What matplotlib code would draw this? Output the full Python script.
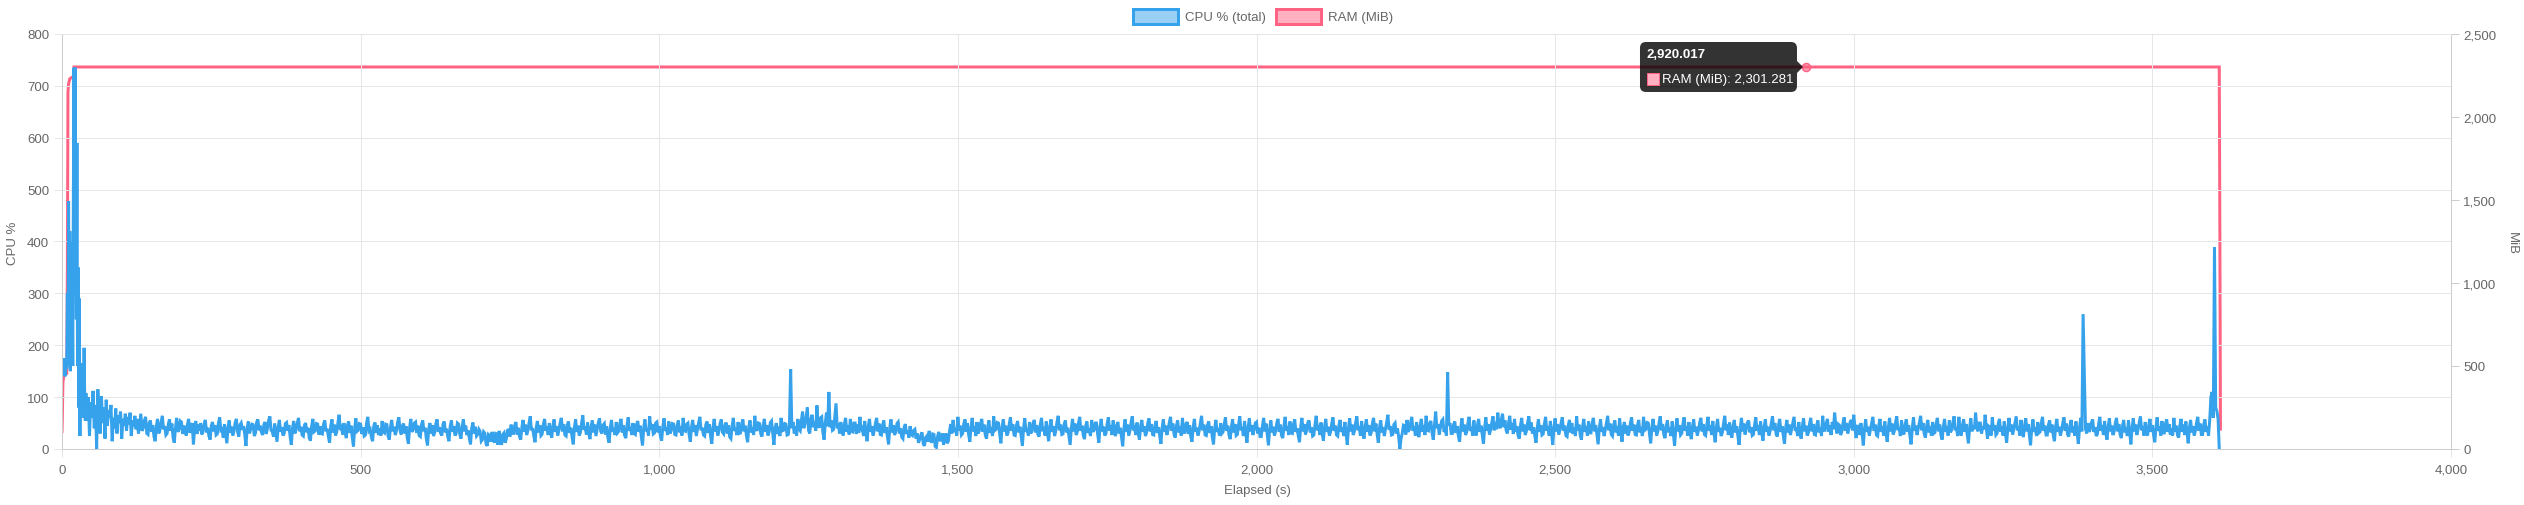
import matplotlib
matplotlib.use("Agg")
import matplotlib.pyplot as plt
import matplotlib.transforms as mtransforms
import numpy as np
from matplotlib.patches import Rectangle, FancyBboxPatch, Polygon
from matplotlib.ticker import FuncFormatter

plt.rcParams["font.family"] = ["Liberation Sans", "DejaVu Sans"]

W, H, DPI = 2524, 506, 100

# ── CPU % (total) ───────────────────────────────────────────────────────────
# start-up burst, 1 s samples (t = 0..39)
cpu_head_1s = [160, 172, 150, 175, 168, 140, 172, 165,
               155, 300, 160, 478, 170, 420, 150, 399, 180, 330, 160,
               480, 735, 300, 735, 395, 250,
               590, 160, 350, 80, 290,
               25, 165, 80,
               165, 100, 150, 60, 195, 100, 55]
# settling, 2 s samples (t = 40..128)
cpu_head_2s = [108, 55, 100, 25, 90, 60, 112, 40, 85, 0, 115,
               70, 30, 102, 50, 80, 20, 95, 45, 75, 60, 85, 15,
               60, 40, 78, 30, 65, 50, 72, 20, 58, 45, 68, 35, 62, 48, 70, 25,
               55, 44, 64, 38, 58, 30]
# steady run, 2 s samples (t = 132..3612), one row per 100 s
cpu_body_2s = [
    68,35, 40,55, 62,30, 28,50, 55,33, 46,24, 15,44, 58,30, 36,52, 64,38, 44,27, 30,48, 57,35, 49,22, 12,40, 60,33, 38,54, 52,29, 45,36, 26,47, 58,31, 42,50, 9,38, 54,29, 47,35,  # 132
    50,28, 33,49, 56,32, 41,25, 18,45, 52,34, 46,27, 29,50, 61,36, 38,22, 48,30, 11,42, 55,31, 43,26, 35,51, 58,33, 24,46, 50,37, 44,28, 6,40, 53,30, 39,48, 47,25, 31,52, 57,36,  # 232
    45,32, 27,47, 52,29, 40,55, 63,36, 34,24, 49,31, 14,43, 56,33, 42,26, 30,49, 51,35, 46,23, 8,41, 54,30, 37,50, 60,34, 43,27, 25,46, 50,32, 41,21, 16,44, 58,33, 35,49, 48,28,  # 332
    44,30, 29,48, 55,34, 39,24, 12,45, 57,32, 47,26, 33,51, 66,37, 41,28, 50,33, 21,46, 53,31, 45,22, 5,40, 59,34, 36,49, 48,29, 42,25, 27,50, 62,35, 38,23, 15,44, 51,31, 46,27,  # 432
    40,26, 54,33, 31,48, 47,25, 18,42, 56,34, 43,27, 35,52, 61,36, 28,45, 49,30, 44,22, 10,41, 58,33, 37,50, 52,31, 45,26, 24,47, 55,34, 41,20, 7,39, 50,30, 46,25, 32,49, 57,33,  # 532
    42,30, 26,48, 53,32, 39,23, 15,44, 55,33, 44,26, 30,50, 48,29, 20,43, 57,34, 45,27, 36,21, 9,40, 51,30, 43,25, 28,38, 34,15, 18,33, 30,10, 6,28, 26,14, 33,20, 12,30, 29,8,  # 632
    35,16, 8,28, 31,12, 20,36, 37,24, 47,30, 30,45, 52,28, 41,24, 18,42, 56,33, 47,27, 35,50, 63,36, 40,25, 13,41, 54,32, 46,26, 29,48, 58,35, 43,27, 50,31, 22,45, 57,33, 44,26,  # 732
    36,50, 60,34, 48,27, 25,46, 53,31, 41,24, 9,42, 57,33, 45,26, 32,50, 65,37, 43,28, 51,30, 19,44, 55,32, 47,25, 38,51, 59,34, 30,46, 49,28, 44,22, 12,40, 56,33, 40,27, 52,31,  # 832
    34,49, 58,32, 46,26, 21,45, 61,35, 42,27, 50,30, 28,47, 54,33, 45,23, 7,41, 57,34, 39,26, 63,37, 48,29, 31,50, 52,32, 44,24, 16,43, 59,35, 41,27, 53,30, 36,49, 48,28, 27,46,  # 932
    55,32, 43,26, 60,35, 34,48, 50,28, 14,42, 56,33, 46,25, 38,51, 62,36, 41,27, 25,47, 53,31, 48,24, 10,41, 58,34, 44,26, 35,50, 57,32, 29,45, 51,30, 46,23, 20,44, 60,35, 40,27,  # 1032
    52,30, 31,48, 57,34, 45,25, 13,43, 55,32, 42,27, 64,37, 37,50, 49,29, 24,46, 58,33, 46,26, 33,51, 54,31, 8,40, 50,29, 43,25, 60,35, 36,49, 48,27, 28,46, 154,40, 52,30, 44,26,  # 1132
    58,38, 35,55, 72,40, 48,62, 80,36, 30,58, 66,42, 52,35, 84,45, 41,60, 62,32, 18,50, 70,44, 110,42, 55,36, 38,64, 88,40, 49,30, 52,35, 26,48, 60,33, 45,28, 58,34, 33,50, 50,29,  # 1232
    47,31, 62,35, 39,25, 54,32, 15,44, 58,33, 44,26, 36,50, 60,34, 49,28, 27,46, 55,31, 42,24, 9,41, 57,32, 46,27, 33,49, 52,30, 40,23, 20,42, 48,29, 35,22, 44,28, 26,36, 38,20,  # 1332
    30,12, 18,27, 32,10, 6,22, 25,14, 35,18, 12,29, 28,5, 3,24, 33,15, 20,30, 8,22, 30,11, 15,34, 48,30, 56,33, 40,26, 62,36, 45,27, 30,49, 57,33, 50,28, 14,42, 60,34, 43,25,  # 1432
    52,30, 36,49, 58,33, 47,26, 20,43, 55,31, 41,25, 63,36, 38,51, 50,29, 11,42, 57,34, 45,26, 31,48, 61,35, 48,27, 26,45, 54,32, 43,24, 6,40, 59,33, 40,26, 52,30, 34,50, 56,32,  # 1532
    46,28, 24,47, 60,34, 42,26, 53,31, 15,43, 57,33, 44,25, 36,52, 64,36, 47,28, 29,48, 55,32, 41,24, 8,41, 58,34, 49,27, 33,50, 62,35, 45,26, 19,44, 53,31, 40,25, 56,33, 37,50,  # 1632
    50,29, 12,42, 58,34, 43,26, 30,49, 61,35, 46,27, 55,32, 25,46, 52,30, 41,23, 5,40, 57,33, 47,26, 35,51, 63,36, 40,27, 51,30, 18,44, 56,33, 44,25, 32,50, 59,34, 48,28, 27,45,  # 1732
    54,31, 42,25, 10,41, 57,33, 45,27, 37,51, 62,35, 49,28, 22,45, 55,32, 43,26, 60,34, 30,48, 52,29, 46,24, 14,42, 58,33, 41,26, 35,50, 64,36, 47,27, 26,46, 53,31, 44,23, 9,40,  # 1832
    56,33, 40,26, 50,30, 33,48, 61,35, 45,27, 19,43, 57,32, 48,26, 28,47, 63,36, 42,25, 54,31, 12,41, 59,34, 46,27, 37,50, 52,30, 41,24, 24,45, 60,34, 49,28, 7,39, 55,32, 43,26,  # 1932
    34,50, 58,33, 47,26, 21,44, 62,35, 44,27, 53,31, 30,48, 57,33, 40,25, 13,42, 60,34, 48,28, 36,51, 55,32, 42,25, 27,47, 64,36, 46,27, 51,30, 16,43, 58,33, 43,26, 33,49, 61,35,  # 2032
    45,27, 25,46, 56,33, 41,25, 52,30, 8,40, 59,34, 47,27, 35,51, 63,36, 43,26, 54,31, 20,44, 57,33, 46,26, 31,49, 60,34, 49,28, 12,42, 55,32, 42,25, 38,52, 66,37, 44,27, 28,47,  # 2132
    50,30, 40,24, 0,20, 30,46, 45,28, 56,33, 38,50, 62,35, 44,26, 52,31, 23,45, 58,33, 46,27, 64,36, 35,50, 54,31, 18,44, 72,40, 48,28, 42,54, 57,33, 39,26, 148,45, 50,30, 30,47,  # 2232
    53,31, 44,25, 14,42, 59,34, 47,27, 33,50, 62,35, 42,26, 55,32, 26,46, 58,33, 45,27, 10,41, 61,35, 48,28, 37,51, 63,36, 52,38, 70,45, 40,58, 68,42, 55,36, 30,50, 64,37, 50,29,  # 2332
    58,33, 44,26, 20,45, 60,34, 47,27, 35,51, 63,36, 51,30, 42,25, 12,41, 57,33, 46,27, 29,48, 62,35, 43,26, 54,31, 8,40, 59,34, 48,28, 36,50, 61,35, 45,26, 24,46, 56,32, 50,29,  # 2432
    41,25, 63,36, 47,27, 18,43, 58,33, 44,26, 53,31, 31,49, 60,34, 46,27, 9,40, 57,33, 42,25, 37,51, 64,36, 49,28, 25,46, 55,32, 43,26, 59,34, 14,42, 52,30, 45,26, 33,50, 61,35,  # 2532
    47,28, 27,46, 56,32, 42,25, 62,36, 38,51, 50,29, 11,41, 58,34, 45,26, 34,50, 63,36, 48,28, 21,44, 55,32, 41,25, 53,30, 6,39, 59,34, 46,27, 30,48, 61,35, 44,26, 52,30, 19,43,  # 2632
    57,33, 43,26, 36,50, 60,34, 48,28, 26,46, 62,35, 45,27, 54,31, 13,42, 58,33, 41,25, 32,49, 64,36, 47,27, 51,30, 22,45, 56,32, 44,25, 8,40, 60,34, 49,28, 38,51, 55,32, 42,26,  # 2732
    28,47, 61,35, 46,27, 53,31, 16,43, 57,33, 43,26, 35,50, 63,36, 50,29, 24,45, 58,33, 44,26, 10,41, 56,32, 47,27, 39,51, 62,35, 41,25, 52,30, 20,44, 59,34, 45,26, 31,49, 60,34,  # 2832
    48,28, 27,46, 55,32, 42,25, 64,36, 36,50, 58,33, 45,27, 52,38, 70,44, 30,48, 46,27, 33,50, 61,35, 50,30, 40,52, 56,36, 66,40, 21,44, 44,27, 50,30, 7,39, 57,33, 43,26, 38,51,  # 2932
    62,35, 47,27, 25,46, 58,33, 44,26, 53,31, 14,42, 60,34, 49,28, 35,51, 63,36, 42,25, 55,32, 28,47, 57,33, 46,26, 9,40, 61,35, 45,27, 39,52, 64,36, 50,29, 22,44, 56,32, 43,26,  # 3032
    52,30, 32,49, 60,34, 47,27, 18,43, 58,33, 44,26, 55,32, 37,51, 63,36, 41,25, 62,35, 26,46, 57,33, 48,28, 11,41, 59,34, 45,38, 70,42, 34,50, 50,30, 43,38, 66,40, 20,44, 42,26,  # 3132
    61,35, 46,27, 30,49, 58,33, 43,26, 53,31, 12,41, 60,34, 47,28, 38,51, 63,36, 44,26, 56,32, 23,45, 59,34, 48,28, 7,39, 57,33, 41,25, 52,31, 33,50, 62,35, 45,27, 27,47, 55,32,  # 3232
    47,27, 15,43, 58,33, 43,26, 36,50, 61,35, 49,28, 24,45, 56,32, 44,26, 53,31, 10,40, 60,34, 260,148, 40,30, 50,33, 38,51, 57,33, 42,25, 29,48, 62,35, 46,27, 54,31, 18,43, 59,34,  # 3332
    45,27, 34,50, 60,34, 48,28, 21,44, 56,32, 42,25, 55,31, 9,40, 59,34, 47,27, 38,51, 63,36, 44,26, 52,30, 26,46, 58,33, 46,27, 13,42, 61,35, 43,26, 54,31, 31,49, 57,33, 48,28,  # 3432
    40,26, 60,34, 45,27, 22,45, 58,33, 47,27, 53,31, 11,41, 56,32, 44,26, 35,51, 62,35, 49,28, 28,47, 57,33, 43,26, 55,100, 110,60, 389,80, 73,58, 0,  # 3532
]

# ── RAM (MiB) ───────────────────────────────────────────────────────────────
ram_t = [0, 0.5, 1.5, 3, 8, 9, 10, 11, 13, 16, 19, 20, 3612, 3613, 3614]
ram_v = [105, 180, 400, 440, 455, 1100, 2150, 2200, 2230, 2238, 2240, 2301.281,
         2301.281, 1300, 120]

# hovered point shown in the tooltip
hover_t = 2920.017
hover_ram = 2301.281

x_ticks = np.arange(0, 4001, 500)
cpu_ticks = np.arange(0, 801, 100)
mib_ticks = np.arange(0, 2501, 500)

BLUE = "#36A2EB"
RED = "#FF6384"
TXT = "#666666"
GRID = "#e6e6e6"
AXIS = "#cccccc"
FS = 9.5
PX = 72 / DPI  # points per pixel

cpu_t = np.concatenate([
    np.arange(len(cpu_head_1s)),
    40 + 2 * np.arange(len(cpu_head_2s)),
    132 + 2 * np.arange(len(cpu_body_2s)),
])
cpu_v = np.array(cpu_head_1s + cpu_head_2s + cpu_body_2s, dtype=float)

fig = plt.figure(figsize=(W / DPI, H / DPI), dpi=DPI)
fig.patch.set_facecolor("white")
ax = fig.add_axes([62 / W, (H - 450) / H, 2389 / W, 415 / H])
ax2 = ax.twinx()
ax.set_zorder(2)
ax.patch.set_visible(False)
ax2.set_zorder(1)

comma = FuncFormatter(lambda v, _: f"{v:,.0f}")

ax.set_xlim(0, 4000)
ax.set_ylim(0, 800)
ax2.set_ylim(0, 2500)
ax.set_xticks(x_ticks)
ax.set_yticks(cpu_ticks)
ax2.set_yticks(mib_ticks)
ax.xaxis.set_major_formatter(comma)
ax2.yaxis.set_major_formatter(comma)

ax.grid(True, color=GRID, lw=1 * PX)
ax.set_axisbelow(True)
ax.tick_params(axis="x", length=8 * PX, width=PX, color=GRID, labelcolor=TXT,
               labelsize=FS, pad=5)
ax.tick_params(axis="y", length=8 * PX, width=PX, color=GRID, labelcolor=TXT,
               labelsize=FS, pad=3.5)
ax2.tick_params(axis="y", length=8 * PX, width=PX, color=AXIS, labelcolor=TXT,
                labelsize=FS, pad=3)
for a in (ax, ax2):
    for side in ("left", "bottom", "right"):
        a.spines[side].set_color(AXIS)
        a.spines[side].set_linewidth(PX)
    a.spines["top"].set_color(GRID)
    a.spines["top"].set_linewidth(PX)

ax2.plot(ram_t, ram_v, color=RED, lw=3 * PX, solid_joinstyle="miter")
ax.plot(cpu_t, cpu_v, color=BLUE, lw=3 * PX, solid_joinstyle="miter")
ax2.plot([hover_t], [hover_ram], "o", ms=8 * PX, mfc=(1, 0.39, 0.52, 0.6),
         mec=RED, mew=1.5 * PX, zorder=5)

# axis titles
fig.text(13 / W, 1 - 243 / H, "CPU %", rotation=90, ha="center", va="center",
         color=TXT, fontsize=FS)
fig.text(2512 / W, 1 - 243 / H, "MiB", rotation=270, ha="center", va="center",
         color=TXT, fontsize=FS)
fig.text(1257 / W, 1 - 491 / H, "Elapsed (s)", ha="center", va="center",
         color=TXT, fontsize=FS)

# legend
for x0, label, col, fill in [(1133, "CPU % (total)", BLUE, (0.21, 0.64, 0.92, 0.5)),
                             (1276, "RAM (MiB)", RED, (1, 0.39, 0.52, 0.5))]:
    fig.add_artist(Rectangle((x0 / W, 1 - 25 / H), 45 / W, 15 / H,
                             transform=fig.transFigure, fc=fill, ec=col,
                             lw=3 * PX))
    fig.text((x0 + 52) / W, 1 - 17.5 / H, label, ha="left", va="center",
             color=TXT, fontsize=FS)

# tooltip
ident = mtransforms.IdentityTransform()
fig.canvas.draw()
px_, py_ = ax2.transData.transform((hover_t, hover_ram))
bx1 = px_ - 9
bx0 = bx1 - 157
by0, by1 = py_ - 25, py_ + 25
fig.add_artist(FancyBboxPatch((bx0, by0), bx1 - bx0, by1 - by0,
                              boxstyle="round,pad=0,rounding_size=6",
                              transform=ident, fc=(0, 0, 0, 0.8), ec="none",
                              zorder=20))
fig.add_artist(Polygon([(bx1, py_ + 6), (bx1 + 6, py_), (bx1, py_ - 6)],
                       closed=True, transform=ident, fc=(0, 0, 0, 0.8),
                       ec="none", zorder=20))
fig.text(bx0 + 7, py_ + 12.5, f"{hover_t:,.3f}", transform=ident, ha="left",
         va="center", color="white", fontsize=FS, fontweight="bold", zorder=21)
fig.add_artist(Rectangle((bx0 + 7, py_ - 18), 12, 12, transform=ident,
                         fc="#ffb1c1", ec=RED, lw=1 * PX, zorder=21))
fig.text(bx0 + 22, py_ - 12, f"RAM (MiB): {hover_ram:,.3f}", transform=ident,
         ha="left", va="center", color="white", fontsize=FS, zorder=21)

fig.savefig("out.png", dpi=DPI, facecolor="white")
